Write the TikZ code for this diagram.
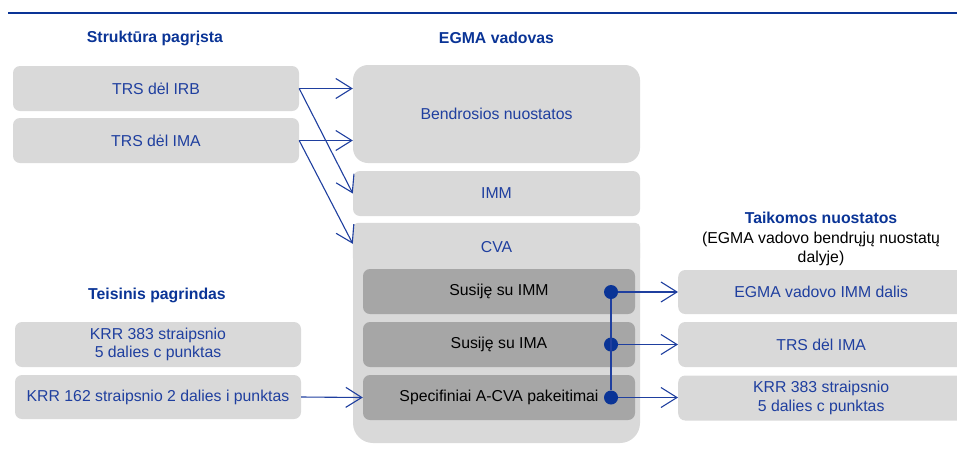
\documentclass[tikz,border=0pt]{standalone}
\usepackage{fontspec}
\setmainfont{Liberation Sans}
\usepackage{tikz}
\usetikzlibrary{arrows.meta, calc, positioning}
\definecolor{egmaBlue}{HTML}{1F3F9F}
\definecolor{egmaDark}{HTML}{0A3496}
\definecolor{boxLight}{HTML}{D9D9D9}
\definecolor{boxDark}{HTML}{A6A6A6}
\newcommand{\diagfont}{\fontsize{15.8}{18.5}\selectfont}

\tikzset{
  box/.style = {fill = boxLight, rounded corners = 7pt, text = egmaBlue, align = center,
    inner sep = 0pt, minimum width = 286pt, minimum height = 45pt},
  subbox/.style = {fill = boxDark, rounded corners = 7pt, text = black,
    inner sep = 0pt, minimum width = 272pt, minimum height = 45pt},
  heading/.style = {text = egmaDark, font = \diagfont\bfseries, align = center},
  link/.style = {draw = egmaBlue, line width = 1.1pt, -{Straight Barb[length = 16pt, width = 20pt]}},
  joint/.style = {circle, fill = egmaDark, minimum size = 14pt, inner sep = 0pt},
}

\begin{document}
\begin{tikzpicture}[x = 1pt, y = -1pt, font = \diagfont]
  \def\midX{496.5}
  \def\subX{499}
  \def\dotX{611}
  \def\rightX{678}

  \clip (0, 0) rectangle (957, 453);

  % ------------------------
  % header rule and titles
  % ------------------------

  \coordinate (R1) at (8, 12.7);
  \coordinate (R2) at (957, 12.7);
  \draw[egmaDark, line width = 2pt] (R1) -- (R2);

  \node[heading] (struktura) at (155, 38) {Struktūra pagrįsta};
  \node[heading] (vadovas) at (\midX, 38) {EGMA vadovas};
  \node[heading] (teisinis) at (157, 295) {Teisinis pagrindas};
  \node[heading] (taikomos) at (821, 239) {Taikomos nuostatos\\[1.5pt]
    {\color{black}\mdseries (EGMA vadovo bendrųjų nuostatų}\\
    {\color{black}\mdseries dalyje)}};

  % ------------------------
  % left column
  % ------------------------

  \node[box] (irb) at (156, 88.5) {TRS dėl IRB};
  \node[box] (ima) at (156, 140.5) {TRS dėl IMA};
  \node[box] (krr383) at (158, 344.5) {KRR 383 straipsnio\\5 dalies c punktas};
  \node[box, minimum height = 44pt] (krr162) at (158, 397) {KRR 162 straipsnio 2 dalies i punktas};

  % ------------------------
  % EGMA vadovas column
  % ------------------------

  \node[box, minimum width = 287pt, minimum height = 98pt, rounded corners = 15pt] (bendr) at (\midX, 114) {Bendrosios nuostatos};
  \node[box, minimum width = 287pt] (imm) at (\midX, 193.5) {IMM};
  \node[box, minimum width = 287pt, minimum height = 220pt, rounded corners = 20pt] (cva) at (\midX, 333) {};
  \fill[boxLight, rounded corners = 5pt] (cva.north west) rectangle ($(cva.north east) + (0, 40)$);
  \node[text = egmaBlue] (cvaTitle) at (\midX, 247) {CVA};

  \node[subbox] (susImm) at (\subX, 291.5) {Susiję su IMM};
  \node[subbox] (susIma) at (\subX, 344.5) {Susiję su IMA};
  \node[subbox] (spec) at (\subX, 397.5) {Specifiniai A-CVA pakeitimai};

  % ------------------------
  % right column
  % ------------------------

  \node[box, anchor = west, minimum height = 44pt] (egmaImm) at (\rightX, 292) {EGMA vadovo IMM dalis};
  \node[box, anchor = west] (trsIma) at (\rightX, 344.5) {TRS dėl IMA};
  \node[box, anchor = west] (krrRight) at (\rightX, 398) {KRR 383 straipsnio\\5 dalies c punktas};

  % ------------------------
  % connectors
  % ------------------------

  \coordinate (cvaIn) at ($(cva.north west) + (0, 21)$);

  \draw[link] (irb.east) -- (irb.east -| bendr.west);
  \draw[link] (irb.east) -- (imm.west);
  \draw[link] (ima.east) -- (ima.east -| bendr.west);
  \draw[link] (ima.east) -- (cvaIn);
  \draw[link] (krr162.east) -- (spec.west);

  \node[joint] (dot1) at (\dotX, 292) {};
  \node[joint] (dot2) at (\dotX, 344.5) {};
  \node[joint] (dot3) at (\dotX, 397.5) {};

  \draw[egmaBlue, line width = 1.1pt] (dot1) -- (dot3);
  \draw[link] (dot1) -- (egmaImm.west);
  \draw[link] (dot2) -- (trsIma.west);
  \draw[link] (dot3) -- (dot3 -| krrRight.west);
\end{tikzpicture}
\end{document}
